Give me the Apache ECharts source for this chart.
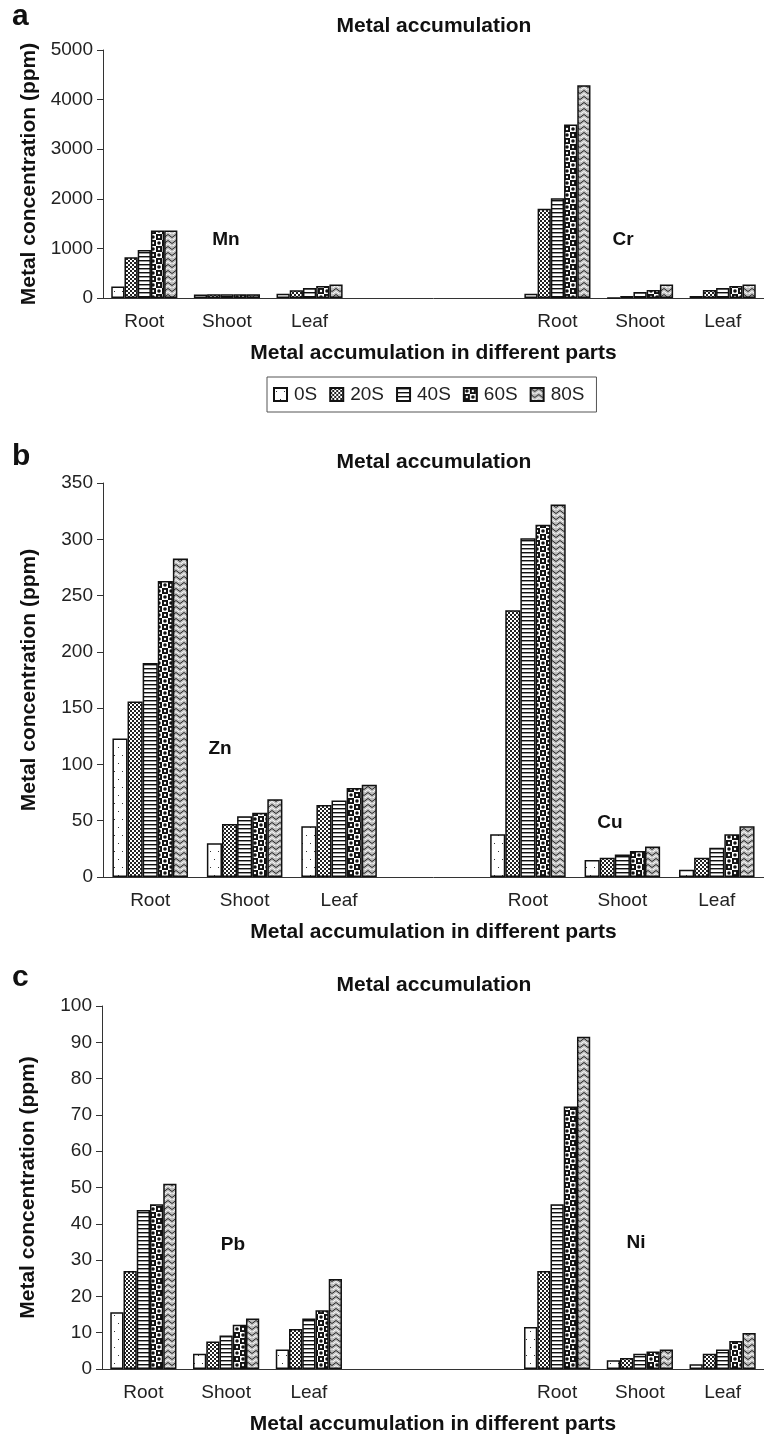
<!DOCTYPE html>
<html>
<head>
<meta charset="utf-8">
<title>Metal accumulation</title>
<script src="https://cdn.jsdelivr.net/npm/echarts@6/dist/echarts.min.js"></script>
<style>
  html, body { margin: 0; padding: 0; background: #fff; }
  #chart { width: 764px; height: 1436px; }
</style>
</head>
<body>
<div id="chart"></div>
<script>
  // categories
  const parts = ['Root', 'Shoot', 'Leaf'];
  const treatments = ['0S', '20S', '40S', '60S', '80S'];

  // metal values (ppm): one row per part (Root, Shoot, Leaf), one column per treatment
  const mn = [[230, 820, 970, 1360, 1360], [70, 75, 75, 75, 75], [85, 155, 200, 240, 270]];
  const cr = [[85, 1800, 2010, 3500, 4290], [5, 40, 120, 160, 270], [40, 160, 200, 240, 270]];
  const zn = [[123, 156, 190, 263, 283], [30, 47, 54, 57, 69], [45, 64, 68, 79, 82]];
  const cu = [[38, 237, 301, 313, 331], [15, 17, 20, 23, 27], [6.5, 17, 26, 38, 45]];
  const pb = [[15.6, 27, 43.8, 45.4, 51], [4.2, 7.6, 9.2, 12.2, 13.9], [5.4, 11, 13.9, 16.2, 24.8]];
  const ni = [[11.6, 27, 45.4, 72.3, 91.5], [2.4, 3, 4.2, 4.8, 5.4], [1.3, 4.2, 5.4, 7.7, 9.9]];

  // y axis ranges per panel
  const yMax = [5000, 350, 100];
  const yStep = [1000, 50, 10];

  const FONT = 'Liberation Sans, Arial, sans-serif';

  // panel layout
  const panels = [
    { a: mn, b: cr, gap: 2, grid: { left: 103, top: 50, width: 665, height: 248 } },
    { a: zn, b: cu, gap: 1, grid: { left: 103, top: 483, width: 662, height: 394 } },
    { a: pb, b: ni, gap: 2, grid: { left: 102, top: 1006, width: 666, height: 366 } }
  ];

  // black & white fill patterns, one per treatment
  function makePattern(k) {
    const c = document.createElement('canvas');
    const ctx = c.getContext('2d');
    if (k === 0) {
      c.width = 8; c.height = 16;
      ctx.fillStyle = '#fff'; ctx.fillRect(0, 0, 8, 16);
      ctx.fillStyle = '#333';
      ctx.fillRect(2, 3, 1, 1); ctx.fillRect(6, 11, 1, 1);
    } else if (k === 1) {
      c.width = 4; c.height = 4;
      ctx.fillStyle = '#fff'; ctx.fillRect(0, 0, 4, 4);
      ctx.fillStyle = '#222';
      ctx.fillRect(0, 0, 2, 2); ctx.fillRect(2, 2, 2, 2);
    } else if (k === 2) {
      c.width = 4; c.height = 4;
      ctx.fillStyle = '#fff'; ctx.fillRect(0, 0, 4, 4);
      ctx.fillStyle = '#111'; ctx.fillRect(0, 0, 4, 1);
      ctx.fillStyle = '#999'; ctx.fillRect(0, 1, 4, 1);
    } else if (k === 3) {
      c.width = 12; c.height = 12;
      ctx.fillStyle = '#111'; ctx.fillRect(0, 0, 12, 12);
      ctx.fillStyle = '#fff';
      ctx.fillRect(0, 0, 6, 6); ctx.fillRect(6, 6, 6, 6);
      ctx.fillStyle = '#111';
      ctx.beginPath(); ctx.arc(3, 3, 1.8, 0, Math.PI * 2); ctx.fill();
      ctx.beginPath(); ctx.arc(9, 9, 1.8, 0, Math.PI * 2); ctx.fill();
      ctx.fillStyle = '#fff';
      ctx.beginPath(); ctx.arc(9, 3, 1.2, 0, Math.PI * 2); ctx.fill();
      ctx.beginPath(); ctx.arc(3, 9, 1.2, 0, Math.PI * 2); ctx.fill();
    } else {
      c.width = 8; c.height = 6;
      ctx.fillStyle = '#bdbdbd'; ctx.fillRect(0, 0, 8, 6);
      ctx.lineWidth = 1;
      ctx.strokeStyle = '#222';
      ctx.beginPath(); ctx.moveTo(0, 0.5); ctx.lineTo(4, 3.5); ctx.lineTo(8, 0.5); ctx.stroke();
      ctx.strokeStyle = '#fff';
      ctx.beginPath(); ctx.moveTo(0, 3.5); ctx.lineTo(4, 6.5); ctx.lineTo(8, 3.5); ctx.stroke();
    }
    return { image: c, repeat: 'repeat' };
  }
  const patterns = treatments.map((_, k) => makePattern(k));

  const chart = echarts.init(document.getElementById('chart'));

  const grids = [], xAxes = [], yAxes = [], series = [];
  panels.forEach((p, i) => {
    grids.push(p.grid);
    const cats = [...parts, ...Array(p.gap).fill(''), ...parts];
    xAxes.push({
      type: 'category',
      gridIndex: i,
      data: cats,
      name: 'Metal accumulation in different parts',
      nameLocation: 'middle',
      nameGap: 45,
      nameTextStyle: { fontFamily: FONT, fontWeight: 'bold', fontSize: 21, color: '#111' },
      axisLine: { lineStyle: { color: '#333', width: 1 } },
      axisTick: { interval: 0, length: 6, lineStyle: { color: '#333' } },
      axisLabel: { interval: 0, margin: 14, fontFamily: FONT, fontSize: 19, color: '#222' }
    });
    yAxes.push({
      type: 'value',
      gridIndex: i,
      min: 0,
      max: yMax[i],
      interval: yStep[i],
      name: 'Metal concentration (ppm)',
      nameLocation: 'middle',
      nameGap: 63,
      nameTextStyle: { fontFamily: FONT, fontWeight: 'bold', fontSize: 21, color: '#111' },
      axisLine: { show: true, lineStyle: { color: '#333', width: 1 } },
      axisTick: { show: true, length: 6, lineStyle: { color: '#333' } },
      axisLabel: { margin: 10, fontFamily: FONT, fontSize: 19, color: '#222', formatter: v => String(v) },
      splitLine: { show: false }
    });
    treatments.forEach((t, j) => {
      series.push({
        type: 'bar',
        name: t,
        xAxisIndex: i,
        yAxisIndex: i,
        barGap: '0%',
        barCategoryGap: '20%',
        data: [...p.a.map(r => r[j]), ...Array(p.gap).fill(null), ...p.b.map(r => r[j])],
        itemStyle: { color: patterns[j], borderColor: '#111', borderWidth: 1.5 }
      });
    });
  });

  function txt(text, x, y, size, align) {
    return {
      type: 'text', x: x, y: y,
      style: {
        text: text, fill: '#111',
        font: 'bold ' + size + 'px ' + FONT,
        align: align || 'center', textAlign: align || 'center',
        verticalAlign: 'middle', textVerticalAlign: 'middle'
      }
    };
  }

  const option = {
    animation: false,
    backgroundColor: '#fff',
    grid: grids,
    xAxis: xAxes,
    yAxis: yAxes,
    legend: {
      data: treatments,
      left: 267,
      top: 377,
      padding: [8, 12, 8, 6],
      itemGap: 12,
      itemWidth: 13,
      itemHeight: 13,
      icon: 'rect',
      borderColor: '#555',
      borderWidth: 1,
      textStyle: { fontFamily: FONT, fontSize: 19, color: '#222', padding: [0, 0, 0, 2] }
    },
    graphic: [
      txt('a', 12, 16.6, 30, 'left'),
      txt('b', 12, 456.6, 30, 'left'),
      txt('c', 12, 977.6, 30, 'left'),
      txt('Metal accumulation', 434, 26, 21),
      txt('Metal accumulation', 434, 462.7, 21),
      txt('Metal accumulation', 434, 985.4, 21),
      txt('Mn', 226, 240, 19),
      txt('Cr', 623, 240, 19),
      txt('Zn', 220, 749, 19),
      txt('Cu', 610, 823, 19),
      txt('Pb', 233, 1245, 19),
      txt('Ni', 636, 1243, 19)
    ],
    series: series
  };
  chart.setOption(option);
</script>
</body>
</html>
